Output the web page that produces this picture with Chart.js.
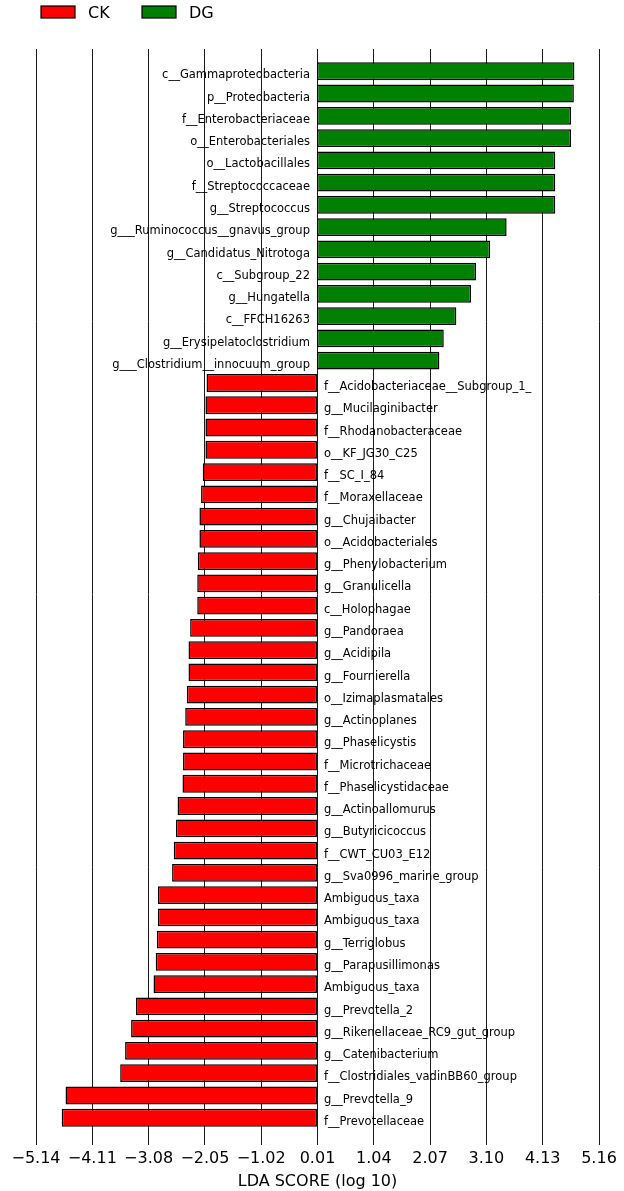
<!DOCTYPE html>
<html>
<head>
<meta charset="utf-8">
<script src="https://cdn.jsdelivr.net/npm/chart.js@4/dist/chart.umd.min.js"></script>
<style>
  html, body { margin: 0; padding: 0; background: #ffffff; }
  #wrap { width: 624px; height: 1191px; }
</style>
</head>
<body>
<div id="wrap"><canvas id="lda" width="624" height="1191"></canvas></div>
<script>
// Taxa enriched in DG (positive LDA score), top to bottom
const dgLabels = [
  'c__Gammaproteobacteria', 'p__Proteobacteria', 'f__Enterobacteriaceae',
  'o__Enterobacteriales', 'o__Lactobacillales', 'f__Streptococcaceae',
  'g__Streptococcus', 'g___Ruminococcus__gnavus_group', 'g__Candidatus_Nitrotoga',
  'c__Subgroup_22', 'g__Hungatella', 'c__FFCH16263',
  'g__Erysipelatoclostridium', 'g___Clostridium__innocuum_group'
];
const dgScores = [4.71, 4.70, 4.65, 4.65, 4.36, 4.36, 4.36, 3.47, 3.17, 2.91, 2.82, 2.55, 2.32, 2.24];

// Taxa enriched in CK (drawn to the left, negative LDA score), top to bottom
const ckLabels = [
  'f__Acidobacteriaceae__Subgroup_1_', 'g__Mucilaginibacter', 'f__Rhodanobacteraceae',
  'o__KF_JG30_C25', 'f__SC_I_84', 'f__Moraxellaceae', 'g__Chujaibacter',
  'o__Acidobacteriales', 'g__Phenylobacterium', 'g__Granulicella', 'c__Holophagae',
  'g__Pandoraea', 'g__Acidipila', 'g__Fournierella', 'o__Izimaplasmatales',
  'g__Actinoplanes', 'g__Phaselicystis', 'f__Microtrichaceae', 'f__Phaselicystidaceae',
  'g__Actinoallomurus', 'g__Butyricicoccus', 'f__CWT_CU03_E12', 'g__Sva0996_marine_group',
  'Ambiguous_taxa', 'Ambiguous_taxa', 'g__Terriglobus', 'g__Parapusillimonas',
  'Ambiguous_taxa', 'g__Prevotella_2', 'g__Rikenellaceae_RC9_gut_group',
  'g__Catenibacterium', 'f__Clostridiales_vadinBB60_group', 'g__Prevotella_9',
  'f__Prevotellaceae'
];
const ckScores = [
  -2.02, -2.04, -2.04, -2.04, -2.09, -2.12, -2.15, -2.15, -2.18, -2.19, -2.19,
  -2.32, -2.35, -2.35, -2.38, -2.41, -2.45, -2.45, -2.46, -2.55, -2.58, -2.62,
  -2.65, -2.91, -2.91, -2.93, -2.95, -2.99, -3.31, -3.40, -3.51, -3.60, -4.60,
  -4.67
];

// Ticks on the LDA score axis
const xTicks = [-5.14, -4.11, -3.08, -2.05, -1.02, 0.01, 1.04, 2.07, 3.10, 4.13, 5.16];

const groupNames = ['CK', 'DG'];
const groupColors = ['#ff0000', '#008000'];

const rowLabels = dgLabels.concat(ckLabels);
const rowCount = rowLabels.length;

const fmtTick = v => (v < 0 ? '\u2212' : '') + Math.abs(v).toFixed(2);

Chart.defaults.font.family = "'DejaVu Sans', sans-serif";
Chart.defaults.color = '#000000';

// Taxon names beside each bar, on the opposite side of zero
const rowNamePlugin = {
  id: 'rowNames',
  afterDraw(chart) {
    const { ctx, scales: { x, y } } = chart;
    const x0 = x.getPixelForValue(0);
    const band = Math.abs(y.getPixelForValue(1) - y.getPixelForValue(0));
    ctx.save();
    ctx.font = "11.5px 'DejaVu Sans', sans-serif";
    ctx.fillStyle = '#000000';
    ctx.textBaseline = 'alphabetic';
    rowLabels.forEach((name, i) => {
      const yy = y.getPixelForValue(i) + band * 0.32;
      if (i < dgLabels.length) {
        ctx.textAlign = 'right';
        ctx.fillText(name, x0 - 7, yy);
      } else {
        ctx.textAlign = 'left';
        ctx.fillText(name, x0 + 7, yy);
      }
    });
    ctx.restore();
  }
};

// Group legend in the top-left corner
const groupLegendPlugin = {
  id: 'groupLegend',
  afterDraw(chart) {
    const { ctx } = chart;
    const items = [
      { ds: chart.data.datasets[0], boxX: 41, textX: 88 },
      { ds: chart.data.datasets[1], boxX: 142, textX: 189 }
    ];
    ctx.save();
    ctx.font = "16px 'DejaVu Sans', sans-serif";
    ctx.textAlign = 'left';
    ctx.textBaseline = 'alphabetic';
    items.forEach(it => {
      ctx.fillStyle = it.ds.backgroundColor;
      ctx.fillRect(it.boxX, 6, 34, 12);
      ctx.lineWidth = 1.2;
      ctx.strokeStyle = '#000000';
      ctx.strokeRect(it.boxX, 6, 34, 12);
      ctx.fillStyle = '#000000';
      ctx.fillText(it.ds.label, it.textX, 18);
    });
    ctx.restore();
  }
};

new Chart(document.getElementById('lda'), {
  type: 'bar',
  data: {
    datasets: [
      {
        label: groupNames[0],
        data: ckScores.map((v, i) => ({ x: v, y: dgLabels.length + i })),
        backgroundColor: groupColors[0],
        borderColor: '#000000',
        borderWidth: 1.5,
        borderSkipped: false,
        grouped: false,
        barPercentage: 0.8,
        categoryPercentage: 1.0
      },
      {
        label: groupNames[1],
        data: dgScores.map((v, i) => ({ x: v, y: i })),
        backgroundColor: groupColors[1],
        borderColor: '#000000',
        borderWidth: 1.5,
        borderSkipped: false,
        grouped: false,
        barPercentage: 0.8,
        categoryPercentage: 1.0
      }
    ]
  },
  options: {
    indexAxis: 'y',
    responsive: false,
    animation: false,
    events: [],
    layout: { padding: { top: 49, left: 36, right: 25, bottom: 0 } },
    plugins: {
      legend: { display: false },
      tooltip: { enabled: false }
    },
    scales: {
      x: {
        type: 'linear',
        position: 'bottom',
        min: xTicks[0],
        max: xTicks[xTicks.length - 1],
        z: 1,
        afterBuildTicks: axis => { axis.ticks = xTicks.map(v => ({ value: v })); },
        afterFit: axis => { axis.height = 51; },
        ticks: {
          autoSkip: false,
          maxRotation: 0,
          padding: 4,
          font: { size: 16 },
          color: '#000000',
          callback: v => fmtTick(v)
        },
        grid: {
          color: '#1a1a1a',
          lineWidth: 1,
          tickLength: 5,
          drawTicks: true
        },
        border: { display: false },
        title: {
          display: true,
          text: 'LDA SCORE (log 10)',
          font: { size: 16 },
          color: '#000000',
          padding: { top: 0, bottom: 0 }
        }
      },
      y: {
        type: 'linear',
        display: false,
        reverse: true,
        offset: false,
        grid: { offset: false },
        min: -1,
        max: rowCount
      }
    }
  },
  plugins: [rowNamePlugin, groupLegendPlugin]
});
</script>
</body>
</html>
